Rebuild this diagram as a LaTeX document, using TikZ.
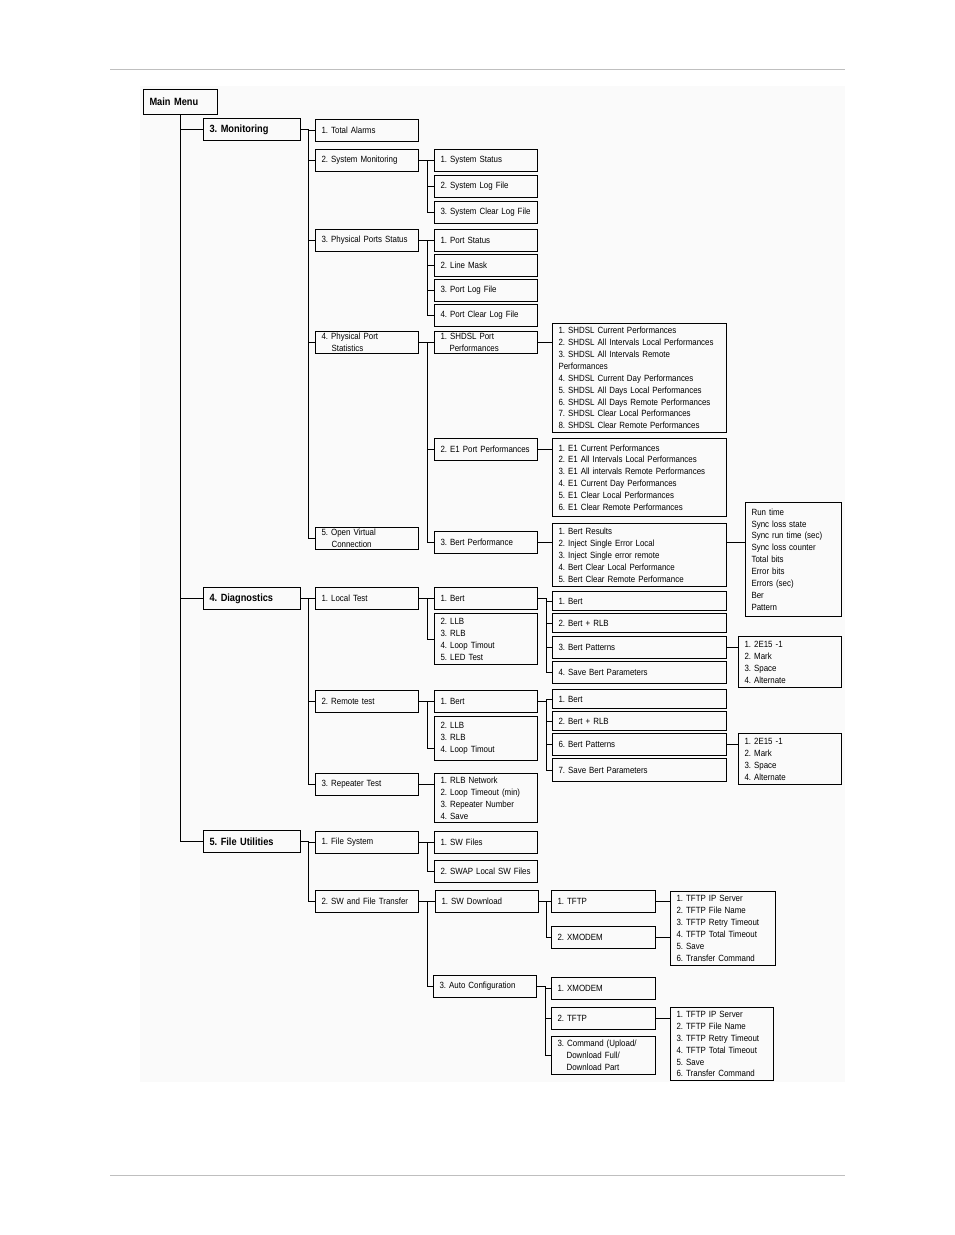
\documentclass[tikz,border=0pt]{standalone}
\usepackage{fontspec}
\setmainfont{Liberation Sans}[FakeStretch=0.88]
\frenchspacing
\hyphenpenalty=10000

\begin{document}
\begin{tikzpicture}[x=1pt,y=-1pt,
box/.style={draw, line width=1.1pt, anchor=north west, align=left, inner xsep=6pt, inner ysep=0pt, minimum height=22pt, text width=91pt, font=\fontsize{9}{11.9}\selectfont},
head/.style={box, text width=85pt, font=\bfseries\fontsize{10.5}{12}\selectfont},
wide/.style={box, text width=162pt},
mid/.style={box, text width=92pt},
link/.style={line width=1.1pt}]
\useasboundingbox (0,0) rectangle (954,1235);
\fill[black!2] (140,86) rectangle (845,1082);
\draw[black!25, line width=1pt] (110,69) -- (845,69) (110,1175) -- (845,1175);

\node[head, text width=62pt, minimum height=25pt] (main) at (143,89) {Main Menu};
\node[head] (mon) at (203,118) {3. Monitoring};
\node[head] (diag) at (203,587) {4. Diagnostics};
\node[head] (fu) at (203,830) {5. File Utilities};

\foreach \n/\y/\t in {tal/119/1. Total Alarms, sysm/149/2. System Monitoring, pps/229/3. Physical Ports Status,
  lt/587/1. Local Test, rt/690/2. Remote test, rpt/773/3. Repeater Test, fs/831/1. File System, swft/890/2. SW and File Transfer}
  \node[box] (\n) at (315,\y) {\mbox{\t}};
\node[box] (ppst) at (315,331) {4. Physical Port\\\hspace*{10pt}Statistics};
\node[box] (ovc) at (315,527) {5. Open Virtual\\\hspace*{10pt}Connection};

\foreach \n/\y/\t in {ss/149/1. System Status, slf/175/2. System Log File, sclf/201/3. System Clear Log File,
  pst/229/1. Port Status, lm/254/2. Line Mask, plf/279/3. Port Log File, pclf/304/4. Port Clear Log File,
  e1p/438/2. E1 Port Performances, bp/531/3. Bert Performance, lbert/587/1. Bert, rbert/690/1. Bert,
  swf/831/1. SW Files, swap/860/2. SWAP Local SW Files}
  \node[box] (\n) at (434,\y) {\mbox{\t}};
\node[box] (shp) at (434,331) {1. SHDSL Port\\\hspace*{9pt}Performances};
\node[box, minimum height=51pt] (lllb) at (434,613) {2. LLB\\3. RLB\\4. Loop Timout\\5. LED Test};
\node[box, minimum height=44pt] (rllb) at (434,716) {2. LLB\\3. RLB\\4. Loop Timout};
\node[box, minimum height=49pt] (rptl) at (434,773) {1. RLB Network\\2. Loop Timeout (min)\\3. Repeater Number\\4. Save};
\node[box] (swd) at (435,890) {1. SW Download};
\node[box] (acfg) at (433,975) {3. Auto Configuration};

\node[wide, minimum height=109pt] (shl) at (552,323) {1. SHDSL Current Performances\\2. SHDSL All Intervals Local Performances\\3. SHDSL All Intervals Remote\\Performances\\4. SHDSL Current Day Performances\\5. SHDSL All Days Local Performances\\6. SHDSL All Days Remote Performances\\7. SHDSL Clear Local Performances\\8. SHDSL Clear Remote Performances};
\node[wide, minimum height=78pt] (e1l) at (552,438) {1. E1 Current Performances\\2. E1 All Intervals Local Performances\\3. E1 All intervals Remote Performances\\4. E1 Current Day Performances\\5. E1 Clear Local Performances\\6. E1 Clear Remote Performances};
\node[wide, minimum height=63pt] (btl) at (552,523) {1. Bert Results\\2. Inject Single Error Local\\3. Inject Single error remote\\4. Bert Clear Local Performance\\5. Bert Clear Remote Performance};
\node[box, text width=84pt, minimum height=114pt] (runl) at (745,502) {Run time\\Sync loss state\\Sync run time (sec)\\Sync loss counter\\Total bits\\Error bits\\Errors (sec)\\Ber\\Pattern};

\foreach \n/\y/\h/\t in {lb1/591/19/1. Bert, lb2/613/19/2. Bert + RLB, lb3/636/22/3. Bert Patterns, lb4/661/22/4. Save Bert Parameters,
  rb1/689/19/1. Bert, rb2/711/19/2. Bert + RLB, rb3/733/22/6. Bert Patterns, rb4/758/23/7. Save Bert Parameters}
  \node[wide, minimum height=\h pt] (\n) at (552,\y) {\mbox{\t}};
\node[box, minimum height=51pt] (lpat) at (738,636) {1. 2E15 -1\\2. Mark\\3. Space\\4. Alternate};
\node[box, minimum height=51pt] (rpat) at (738,733) {1. 2E15 -1\\2. Mark\\3. Space\\4. Alternate};

\foreach \n/\y/\t in {tf1/890/1. TFTP, xm1/926/2. XMODEM, xm2/977/1. XMODEM, tf2/1007/2. TFTP}
  \node[mid] (\n) at (551,\y) {\mbox{\t}};
\node[mid, minimum height=38pt] (cmd) at (551,1036) {3. Command (Upload/\\\hspace*{9pt}Download Full/\\\hspace*{9pt}Download Part};
\node[box, text width=93pt, minimum height=74pt] (tfl1) at (670,891) {1. TFTP IP Server\\2. TFTP File Name\\3. TFTP Retry Timeout\\4. TFTP Total Timeout\\5. Save\\6. Transfer Command};
\node[box, minimum height=73pt] (tfl2) at (670,1007) {1. TFTP IP Server\\2. TFTP File Name\\3. TFTP Retry Timeout\\4. TFTP Total Timeout\\5. Save\\6. Transfer Command};

\foreach \c in {mon,diag,fu} \draw[link] (main.south) |- (\c.west);
\foreach \c in {tal,sysm,pps,ppst,ovc} \draw[link] (mon.east) -- ++(7,0) |- (\c.west);
\foreach \c in {lt,rt,rpt} \draw[link] (diag.east) -- ++(7,0) |- (\c.west);
\foreach \c in {fs,swft} \draw[link] (fu.east) -- ++(7,0) |- (\c.west);

\foreach \c in {ss,slf,sclf} \draw[link] (sysm.east) -- ++(8,0) |- (\c.west);
\foreach \c in {pst,lm,plf,pclf} \draw[link] (pps.east) -- ++(8,0) |- (\c.west);
\foreach \c in {shp,e1p,bp} \draw[link] (ppst.east) -- ++(8,0) |- (\c.west);
\foreach \c in {lbert,lllb} \draw[link] (lt.east) -- ++(8,0) |- (\c.west);
\draw[link] (rt.east) -- ++(8,0) |- (rbert.west);
\draw[link] (rt.east) -- ++(8,0) |- ([yshift=-10pt]rllb.west);
\draw[link] (rpt.east) -- (rpt.east -| rptl.west);
\foreach \c in {swf,swap} \draw[link] (fs.east) -- ++(8,0) |- (\c.west);
\foreach \c in {swd,acfg} \draw[link] (swft.east) -- ++(8,0) |- (\c.west);

\draw[link] (shp.east) -- (shp.east -| shl.west);
\draw[link] (e1p.east) -- (e1p.east -| e1l.west);
\draw[link] (bp.east) -- (bp.east -| btl.west);
\draw[link] (bp.east -| btl.east) -- (bp.east -| runl.west);
\foreach \c in {lb1,lb2,lb3,lb4} \draw[link] (lbert.east) -- ++(8,0) |- (\c.west);
\foreach \c in {rb1,rb2,rb3,rb4} \draw[link] (rbert.east) -- ++(8,0) |- (\c.west);
\draw[link] (lb3.east) -- (lb3.east -| lpat.west);
\draw[link] (rb3.east) -- (rb3.east -| rpat.west);
\foreach \c in {tf1,xm1} \draw[link] (swd.east) -- ++(7,0) |- (\c.west);
\foreach \c in {xm2,tf2,cmd} \draw[link] (acfg.east) -- ++(8,0) |- (\c.west);
\draw[link] (tf1.east) -- (tf1.east -| tfl1.west);
\draw[link] (xm1.east) -- (xm1.east -| tfl1.west);
\draw[link] (tf2.east) -- (tf2.east -| tfl2.west);
\end{tikzpicture}
\end{document}
